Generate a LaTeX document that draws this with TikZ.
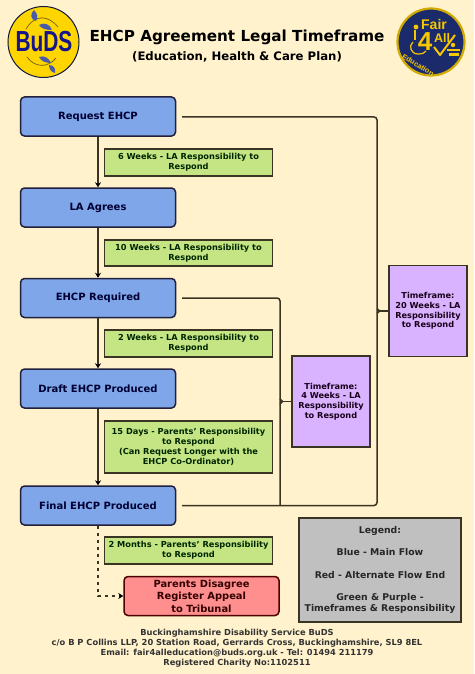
\documentclass[tikz,border=0pt]{standalone}
\usepackage{graphicx}
\usepackage{fontspec}
\setmainfont{DejaVu Sans}
\newfontfamily\logofont{Liberation Sans}
\usetikzlibrary{arrows.meta}
\definecolor{bgc}{HTML}{FFF2CC}
\definecolor{edge}{HTML}{3A3522}
\definecolor{bluef}{HTML}{7EA6E8}
\definecolor{greenf}{HTML}{C5E585}
\definecolor{purplef}{HTML}{D9B3FF}
\definecolor{redf}{HTML}{FF8F8F}
\definecolor{greyf}{HTML}{C0C0C0}
\definecolor{navy}{HTML}{1B2A6B}
\definecolor{budsblue}{HTML}{14148C}
\definecolor{goldy}{HTML}{F5C800}
\definecolor{budsyellow}{HTML}{FFD500}
\definecolor{leaf}{HTML}{4A5CA8}
\definecolor{stem}{HTML}{7A6A20}
\tikzset{
 x=1pt,y=-1pt,
 boxbase/.style={draw=edge,line width=1.5pt,align=center,inner sep=0pt},
 flowbox/.style={boxbase,draw=black!60!blue!40!edge,fill=bluef,rounded corners=4pt,minimum width=155pt,minimum height=39pt,font=\bfseries\fontsize{10}{12}\selectfont,text=black!80!blue},
 greenbox/.style={boxbase,fill=greenf,minimum width=168pt,font=\bfseries\fontsize{8.25}{10}\selectfont,text=black!75!green!60!black},
 purplebox/.style={boxbase,fill=purplef,minimum width=78pt,minimum height=91pt,font=\bfseries\fontsize{8.2}{9.8}\selectfont,text=black!80!violet},
 flowarrow/.style={draw=edge,line width=1.5pt,-{Stealth[length=5pt,width=6pt,color=black]}},
 linkline/.style={draw=edge,line width=1.5pt,rounded corners=3pt},
 leafshape/.style={fill=leaf},
 stemline/.style={draw=stem,line width=.8pt},
 logotext/.style={text=goldy,inner sep=0pt},
 wheel/.style={draw=goldy,line width=1.2pt},
}
\begin{document}
\begin{tikzpicture}
\useasboundingbox (0,0) rectangle (474,674);
\fill[bgc] (0,0) rectangle (474,674);
% BuDS logo
\node[circle,draw=navy!60!black,line width=1pt,fill=budsyellow,minimum size=71pt,inner sep=0pt] (buds) at (43.5,42) {};
\draw[stemline] (26,29) .. controls (35,14) and (48,15) .. (58,27);
\draw[stemline] (27,57) .. controls (35,68) and (48,68) .. (56,58);
\fill[leafshape] (36,21) .. controls (30,19) and (30,14) .. (34,10) .. controls (38,14) and (38,18) .. (36,21);
\fill[leafshape] (39,25) .. controls (44,22) and (50,24) .. (52,30) .. controls (46,30) and (42,29) .. (39,25);
\fill[leafshape] (39,57) .. controls (44,55) and (49,58) .. (51,63) .. controls (45,63) and (41,61) .. (39,57);
\fill[leafshape] (49,65) .. controls (54,65) and (56,69) .. (55,73) .. controls (51,72) and (49,69) .. (49,65);
\node[font=\logofont\bfseries\fontsize{29}{30}\selectfont,text=budsblue,inner sep=0pt] (budst) at (44,41.5) {\scalebox{.72}[1]{BuDS}};
% Fair4All logo
\node[circle,draw=goldy!85!black,line width=2.2pt,fill=navy,minimum size=67pt,inner sep=0pt] (fair) at (431,42) {};
\node[logotext,font=\logofont\bfseries\fontsize{14}{14}\selectfont] (fairt) at (434,24.5) {Fair};
\node[logotext,font=\logofont\bfseries\fontsize{26}{26}\selectfont] (fourt) at (425,42) {4};
\node[logotext,font=\logofont\bfseries\fontsize{12.5}{13}\selectfont] (allt) at (442,38) {All};
\fill[goldy] (416,27) circle (2.4);
\draw[wheel] (415,30) -- (415,40);
\draw[wheel] (413,42) .. controls (408,46) and (411,54) .. (418,54) .. controls (422,54) and (425,53) .. (426,51);
\draw[goldy,line width=2pt,line join=round] (434,47) -- (440,55) -- (455,35);
\fill[goldy] (453,45) circle (2.2);
\fill[goldy] (447,49) rectangle (460,51.5);
\fill[goldy] (449,53.5) rectangle (459,56);
\node[logotext,font=\logofont\bfseries\fontsize{7.4}{8}\selectfont,rotate=-31] (faired) at (418,65) {Education};
% titles
\node[font=\bfseries\fontsize{15.2}{17}\selectfont,text=black] (title) at (237,37) {EHCP Agreement Legal Timeframe};
\node[font=\bfseries\fontsize{11.7}{14}\selectfont,text=black] (subtitle) at (237,57) {(Education, Health \& Care Plan)};
% main flow
\node[flowbox] (req) at (98,116.5) {Request EHCP};
\node[flowbox] (agr) at (98,207.5) {LA Agrees};
\node[flowbox] (rqd) at (98,298) {EHCP Required};
\node[flowbox] (drf) at (98,388.5) {Draft EHCP Produced};
\node[flowbox] (fin) at (98,505.5) {Final EHCP Produced};
\node[boxbase,draw=black!70!red,fill=redf,rounded corners=4pt,minimum width=155pt,minimum height=39pt,font=\bfseries\fontsize{9.9}{12.6}\selectfont,text=black!80!red] (app) at (201.5,596) {Parents Disagree\\Register Appeal\\to Tribunal};
\draw[flowarrow] (req) -- (agr);
\draw[flowarrow] (agr) -- (rqd);
\draw[flowarrow] (rqd) -- (drf);
\draw[flowarrow] (drf) -- (fin);
\coordinate (turn) at (98,596);
\draw[flowarrow,dash pattern=on 3.5pt off 3.5pt] (fin.south) -- (turn) -- (app.west);
% green notes
\node[greenbox,minimum height=27pt] (g1) at (188.5,162.5) {6 Weeks - LA Responsibility to\\Respond};
\node[greenbox,minimum height=26pt] (g2) at (188.5,253) {10 Weeks - LA Responsibility to\\Respond};
\node[greenbox,minimum height=27pt] (g3) at (188.5,343.5) {2 Weeks - LA Responsibility to\\Respond};
\node[greenbox,minimum height=52pt] (g4) at (188.5,447) {15 Days - Parents' Responsibility\\to Respond\\(Can Request Longer with the\\EHCP Co-Ordinator)};
\node[greenbox,minimum height=27pt] (g5) at (188.5,550.5) {2 Months - Parents' Responsibility\\to Respond};
% purple
\node[purplebox] (p4) at (331,401.5) {Timeframe:\\4 Weeks - LA\\Responsibility\\to Respond};
\node[purplebox] (p20) at (428,311) {Timeframe:\\20 Weeks - LA\\Responsibility\\to Respond};
% brackets
\coordinate (a1) at (182,117);
\coordinate (a2) at (377,117);
\coordinate (a3) at (182,505.5);
\coordinate (a4) at (377,505.5);
\coordinate (am) at (377,311);
\coordinate (b1) at (182,298);
\coordinate (b2) at (280,298);
\coordinate (b4) at (280,505.5);
\coordinate (bm) at (280,401.5);
\draw[linkline] (a1) -- (a2) -- (a4) -- (a3);
\draw[linkline] (b1) -- (b2) -- (b4);
\draw[linkline,rounded corners=0pt] (am) ++(0,-2.5) -- ++(2.5,2.5) -- ++(-2.5,2.5);
\draw[linkline,rounded corners=0pt] (bm) ++(0,-2.5) -- ++(2.5,2.5) -- ++(-2.5,2.5);
\draw[linkline] (am) -- (p20.west);
\draw[linkline] (bm) -- (p4.west);
% legend
\node[boxbase,fill=greyf,minimum width=162pt,minimum height=104pt,font=\bfseries\fontsize{9.3}{11}\selectfont,text=black!85] (leg) at (380,570) {Legend:\\[11.5pt]Blue - Main Flow\\[11.5pt]Red - Alternate Flow End\\[11.5pt]Green \& Purple -\\Timeframes \& Responsibility};
% footer
\node[align=center,font=\bfseries\fontsize{8.3}{10}\selectfont,text=black!80] (foot) at (237,648) {Buckinghamshire Disability Service BuDS\\c/o B P Collins LLP, 20 Station Road, Gerrards Cross, Buckinghamshire, SL9 8EL\\Email: fair4alleducation@buds.org.uk - Tel: 01494 211179\\Registered Charity No:1102511};
\end{tikzpicture}
\end{document}
